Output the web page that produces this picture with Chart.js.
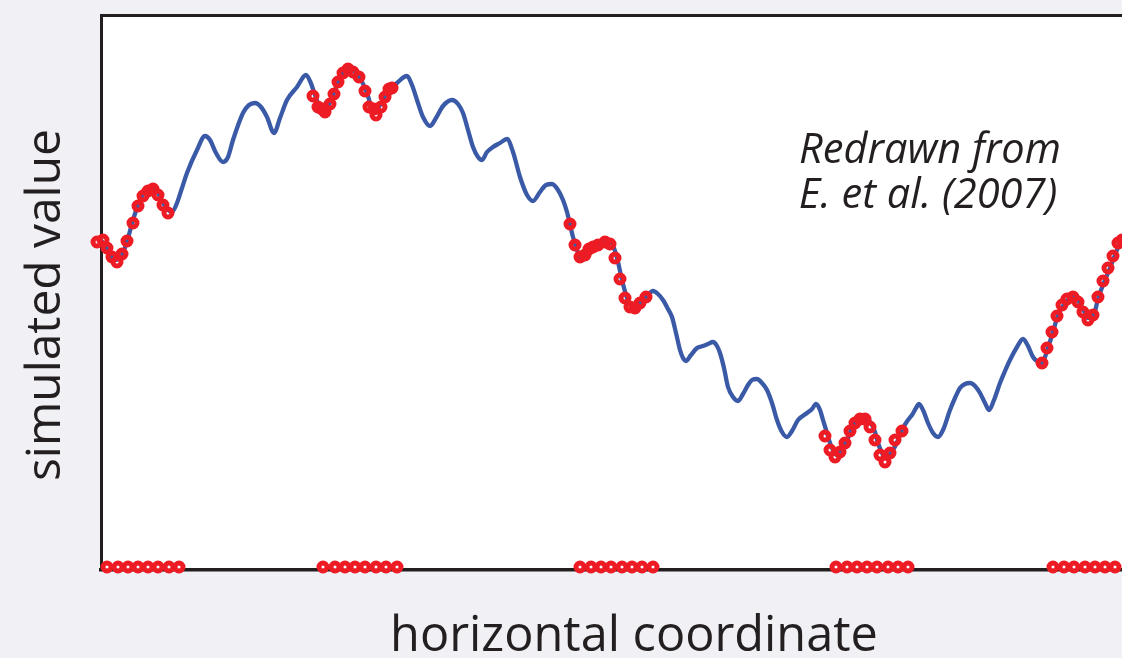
<!DOCTYPE html>
<html>
<head>
<meta charset="utf-8">
<script src="https://cdn.jsdelivr.net/npm/chart.js@4.4.1/dist/chart.umd.min.js"></script>
<style>
  html, body { margin: 0; padding: 0; background: #f0f0f5; overflow: hidden; }
  #wrap { width: 1122px; height: 658px; }
</style>
</head>
<body>
<div id="wrap"><canvas id="chart" width="1122" height="658"></canvas></div>
<script>
// Simulated field along the horizontal coordinate (large wave with short ripples)
const lineX = [-2,0,7,14,21,27,32,39,45,51,57,62,67,71,76,81,86,96,104,109,115,122,127,132,142,148,154,160,166,173,179,186,196,205,209,214,218,222,227,232,239,244,248,253,259,266,273,279,286,296,306,311,316,322,329,335,342,351,357,362,367,372,377,381,386,392,399,406,412,419,426,432,439,445,451,457,462,466,472,476,479,485,492,502,509,513,517,521,526,530,534,540,546,552,557,562,567,571,575,579,582,585,590,596,602,607,612,616,619,623,627,632,637,642,647,651,656,661,666,671,676,681,686,691,697,706,711,715,719,722,726,729,733,736,740,746,750,754,758,762,767,771,774,777,781,784,788,792,797,802,807,811,815,818,822,827,832,837,842,849,854,859,864,869,874,879,884,888,893,899,904,909,916,922,927,932,937,941,944,947,952,957,964,968,972,977,981,984,987,991,994,997,1004,1009,1014,1019,1024];
const lineY = [334,330,320,310,315,332,350,370,379,382,377,367,360,358,367,382,397,420,434,430,417,408,413,430,457,465,467,463,453,437,452,470,483,495,489,475,464,458,464,475,492,500,502,499,492,477,457,465,477,487,494,485,470,453,444,452,464,470,466,457,440,423,413,410,418,423,427,431,418,393,375,369,378,385,386,380,370,358,333,320,313,316,322,327,328,322,308,290,272,265,262,268,274,279,276,270,261,253,237,220,212,209,215,222,224,226,228,224,217,202,183,173,169,176,185,190,191,187,180,167,150,138,133,139,150,157,161,166,160,150,137,127,118,115,120,130,140,148,152,153,151,145,138,127,117,112,115,120,130,142,150,155,162,166,160,147,137,133,140,160,172,182,186,187,184,177,167,160,170,187,199,210,223,231,224,213,208,207,213,222,238,255,267,271,273,270,263,257,252,253,259,271,290,302,315,327,338];

// Sampled values at the five observation windows
const sampleX = [-4,2,6,11,16,21,26,32,37,42,47,52,57,62,67,
  212,217,221,224,229,233,237,242,247,252,258,264,268,273,275,280,284,288,291,
  469,474,479,484,488,492,497,504,509,514,519,524,529,534,539,545,
  724,729,734,739,744,749,754,759,764,769,774,779,784,789,794,801,
  941,946,951,956,961,966,972,977,982,987,992,997,1002,1007,1012,1017,1021];
const sampleY = [328,330,322,313,308,316,329,347,364,374,379,381,375,365,357,
  474,463,461,458,466,476,488,497,501,498,493,479,463,461,455,463,473,481,482,
  346,325,313,315,321,323,325,328,326,312,291,272,263,262,267,273,
  134,120,113,118,127,139,147,151,151,143,130,115,108,117,130,139,
  207,222,238,254,265,271,273,268,258,250,255,273,289,302,314,327,330];

// Observation station positions along the base line
const stationX = [6,17,27,37,47,57,68,78,
  222,234,244,254,264,275,285,296,
  479,490,500,510,521,531,541,552,
  735,746,756,766,776,787,797,807,
  952,963,973,984,994,1004,1014];
const stationLevel = 3;

const xLabel = 'horizontal coordinate';
const yLabel = 'simulated value';
const noteLines = ['Redrawn from', 'E. et al. (2007)'];

const ink = '#231f20';
const blue = '#3a5aa7';
const red = '#ed1c24';

const toPts = (xs, ys) => xs.map((x, i) => ({ x, y: ys[i] }));

const plotBg = {
  id: 'plotBg',
  beforeDraw(chart) {
    const { ctx, chartArea: a } = chart;
    ctx.save();
    ctx.fillStyle = '#ffffff';
    ctx.fillRect(a.left, a.top, a.right - a.left, a.bottom - a.top);
    ctx.restore();
  }
};

// set a font so that the text spans the given width
function fitFont(ctx, text, style, family, width) {
  ctx.font = `${style} 40px ${family}`;
  const size = 40 * width / ctx.measureText(text).width;
  ctx.font = `${style} ${size.toFixed(2)}px ${family}`;
}

const texts = {
  id: 'texts',
  afterDraw(chart) {
    const { ctx } = chart;
    const fam = '"Open Sans"';
    ctx.save();
    ctx.fillStyle = ink;
    ctx.textBaseline = 'alphabetic';
    ctx.textAlign = 'center';
    fitFont(ctx, xLabel, 'normal', fam, 488);
    ctx.fillText(xLabel, 634, 651);
    fitFont(ctx, yLabel, 'normal', fam, 352);
    ctx.save();
    ctx.translate(60, 305);
    ctx.rotate(-Math.PI / 2);
    ctx.fillText(yLabel, 0, 0);
    ctx.restore();
    fitFont(ctx, noteLines[0], 'italic', fam, 262);
    ctx.fillText(noteLines[0], 930, 163);
    ctx.fillText(noteLines[1], 928, 208);
    ctx.restore();
  }
};

const hidden = { ticks: { display: false }, grid: { display: false } };

const markerStyle = {
  showLine: false,
  borderColor: red,
  backgroundColor: 'rgba(255,255,255,0)',
  borderWidth: 5,
  pointBorderColor: red,
  pointBackgroundColor: 'rgba(255,255,255,0)',
  pointBorderWidth: 5,
  pointRadius: 4,
  pointHoverRadius: 4,
  clip: false
};

new Chart(document.getElementById('chart'), {
  type: 'scatter',
  data: {
    datasets: [
      {
        type: 'line',
        data: toPts(lineX, lineY),
        borderColor: blue,
        borderWidth: 4.3,
        pointRadius: 0,
        cubicInterpolationMode: 'monotone',
        order: 3
      },
      {
        data: toPts(sampleX, sampleY),
        ...markerStyle,
        order: 2
      },
      {
        data: stationX.map(x => ({ x, y: stationLevel })),
        ...markerStyle,
        pointBackgroundColor: 'rgba(255,255,255,0.8)',
        order: 1
      }
    ]
  },
  options: {
    responsive: false,
    animation: false,
    layout: { padding: 0, autoPadding: false },
    plugins: { legend: { display: false }, tooltip: { enabled: false } },
    scales: {
      x: {
        type: 'linear', position: 'bottom', min: 0, max: 1021, ...hidden,
        border: { color: ink, width: 3.5 },
        afterFit(s) { s.height = 88; }
      },
      xTop: {
        type: 'linear', position: 'top', min: 0, max: 1021, ...hidden,
        border: { color: ink, width: 3 },
        afterFit(s) { s.height = 15; }
      },
      y: {
        type: 'linear', position: 'left', min: 0, max: 555, ...hidden,
        border: { color: ink, width: 3 },
        afterFit(s) { s.width = 101; }
      }
    }
  },
  plugins: [plotBg, texts]
});
</script>
</body>
</html>
